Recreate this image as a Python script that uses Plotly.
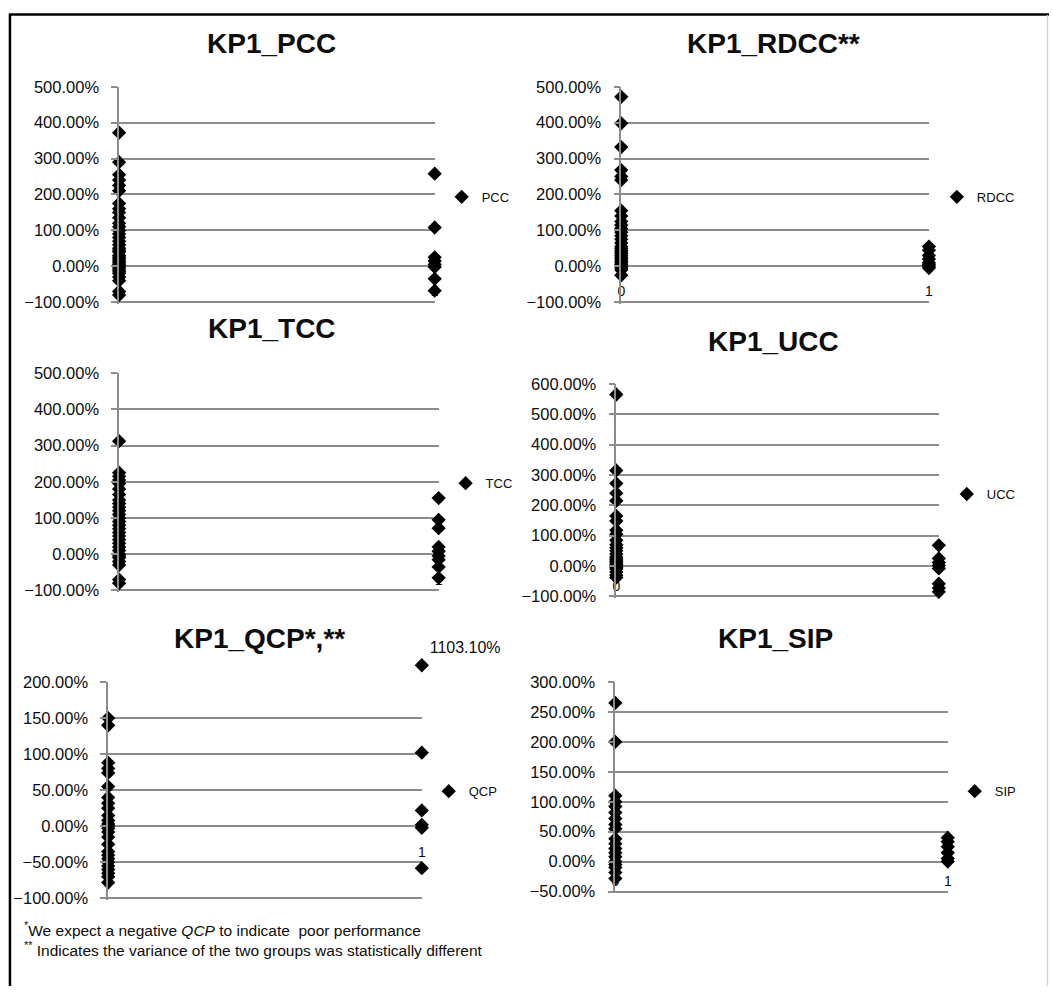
import plotly.graph_objects as go

W, H = 1053, 993

# ---- data (percent change, group 0 vs group 1) ----
pcc_group0 = [372, 290, 255, 240, 225, 210, 175, 160, 150, 135, 120, 110, 100, 90, 80,
              70, 60, 50, 45, 40, 30, 25, 20, 15, 10, 5, 0, -5, -10, -15, -20, -30, -40,
              -70, -80]
pcc_group1 = [258, 108, 25, 15, 5, -2, -35, -68]

rdcc_group0 = [472, 398, 332, 268, 250, 240, 155, 140, 125, 115, 105, 95, 85, 75, 65,
               55, 50, 45, 40, 35, 30, 25, 20, 15, 10, 5, 0, -5, -10, -25]
rdcc_group1 = [55, 45, 30, 20, 10, 5, 0, -5]

tcc_group0 = [312, 225, 215, 205, 195, 180, 165, 150, 140, 130, 120, 110, 100, 90, 80,
              70, 60, 50, 40, 30, 20, 10, 0, -5, -10, -20, -30, -70, -80]
tcc_group1 = [155, 95, 72, 20, 8, -5, -15, -35, -65]

ucc_group0 = [565, 315, 272, 240, 215, 165, 148, 118, 105, 85, 70, 60, 50, 40, 30, 25,
              20, 15, 10, 5, 0, -5, -10, -20, -30, -38]
ucc_group1 = [68, 25, 12, 2, -8, -58, -72, -85]

qcp_group0 = [150, 140, 88, 80, 74, 55, 40, 32, 25, 15, 8, 3, 0, -3, -8, -15, -25, -35,
              -40, -45, -50, -55, -60, -65, -70, -78]
qcp_group1 = [102, 22, 2, -2, -58]
qcp_group1_offscale = [1103.10]

sip_group0 = [265, 200, 110, 100, 92, 82, 72, 62, 55, 38, 30, 22, 15, 8, 0, -5, -10,
              -18, -28]
sip_group1 = [40, 33, 25, 15, 5, 0]

group_ticks = [0, 1]
group_ticktext = ["0", "1"]

# ---- panel layout (pixel boxes of each plotting area) ----
panels = [
    dict(series="PCC", title="KP1_PCC", g0=pcc_group0, g1=pcc_group1,
         yrange=[-100, 500], dtick=100, box=(116, 434, 79, 298),
         title_at=(270, 35), legend_at=(483, 191), xlabel_level=-100),
    dict(series="RDCC", title="KP1_RDCC**", g0=rdcc_group0, g1=rdcc_group1,
         yrange=[-100, 500], dtick=100, box=(622, 932, 79, 298),
         title_at=(775, 35), legend_at=(982, 191), xlabel_level=-100),
    dict(series="TCC", title="KP1_TCC", g0=tcc_group0, g1=tcc_group1,
         yrange=[-100, 500], dtick=100, box=(116, 438, 370, 591),
         title_at=(270, 325), legend_at=(487, 482), xlabel_level=-100),
    dict(series="UCC", title="KP1_UCC", g0=ucc_group0, g1=ucc_group1,
         yrange=[-100, 600], dtick=100, box=(617, 942, 381, 597),
         title_at=(775, 338), legend_at=(992, 493), xlabel_level=-100),
    dict(series="QCP", title="KP1_QCP*,**", g0=qcp_group0, g1=qcp_group1,
         yrange=[-100, 200], dtick=50, box=(105, 421, 684, 904),
         title_at=(257, 640), legend_at=(470, 795), xlabel_level=-50),
    dict(series="SIP", title="KP1_SIP", g0=sip_group0, g1=sip_group1,
         yrange=[-50, 300], dtick=50, box=(616, 951, 684, 897),
         title_at=(777, 640), legend_at=(1000, 795), xlabel_level=-50),
]

FONT = "Liberation Sans"
TEXT = "#0d0d0d"
GRID = "#8c8c8c"
MARKER_SIZE = 11


def fx(px):
    return px / W


def fy(py):
    return 1 - py / H


fig = go.Figure()
layout = dict(
    width=W, height=H,
    margin=dict(l=0, r=0, t=0, b=0),
    paper_bgcolor="white", plot_bgcolor="white",
    font=dict(family=FONT, color=TEXT),
    annotations=[], shapes=[],
)

for i, p in enumerate(panels, start=1):
    sx = "" if i == 1 else str(i)
    x0, x1, yt, yb = p["box"]
    lo, hi = p["yrange"]
    # extend the range a hair below the lowest gridline so that line is still drawn
    pad = 0.008 * (hi - lo)
    yb_ext = yb + (yb - yt) * pad / (hi - lo)
    ydom = [fy(yb_ext), fy(yt)]
    legend_key = "legend" if i == 1 else f"legend{i}"

    xs = [0] * len(p["g0"]) + [1] * len(p["g1"])
    ys = list(p["g0"]) + list(p["g1"])
    fig.add_trace(go.Scatter(
        x=xs, y=ys, mode="markers", name=p["series"],
        marker=dict(symbol="diamond", size=MARKER_SIZE, color="black"),
        xaxis=f"x{sx}", yaxis=f"y{sx}", cliponaxis=False,
        legend=legend_key,
    ))

    label_pos = ydom[0] + (p["xlabel_level"] - (lo - pad)) / (hi - lo + pad) * (ydom[1] - ydom[0])
    layout[f"xaxis{sx}"] = dict(
        domain=[fx(x0), fx(x1)], range=[0, 1], anchor="free", position=label_pos,
        showgrid=False, zeroline=False, showline=False,
        tickvals=group_ticks, ticktext=group_ticktext, ticks="",
        ticklabelposition="inside", ticklabeloverflow="allow",
        layer="below traces", tickfont=dict(size=14, family=FONT, color=TEXT),
        fixedrange=True,
    )
    layout[f"yaxis{sx}"] = dict(
        domain=ydom, range=[lo - pad, hi], tick0=lo, dtick=p["dtick"], anchor=f"x{sx}",
        showgrid=True, gridcolor=GRID, gridwidth=1.5, zeroline=False,
        showline=True, linecolor=GRID, linewidth=1.5,
        ticks="outside", ticklen=6, tickcolor=GRID, tickwidth=1.5,
        tickformat=".2f", ticksuffix="%", ticklabelstandoff=9,
        tickfont=dict(size=16.5, family=FONT, color=TEXT),
        fixedrange=True,
    )

    tx, ty = p["title_at"]
    layout["annotations"].append(dict(
        text=f"<b>{p['title']}</b>", x=fx(tx), y=fy(ty), xref="paper", yref="paper",
        xanchor="center", yanchor="middle", showarrow=False,
        font=dict(size=28, family=FONT, color=TEXT),
    ))

    lx, ly = p["legend_at"]
    layout[legend_key] = dict(
        x=fx(lx - 42), y=fy(ly), xanchor="left", yanchor="middle",
        bgcolor="rgba(0,0,0,0)", borderwidth=0,
        font=dict(size=13, family=FONT, color=TEXT),
    )

# off-scale QCP values: a thin hidden band above the QCP axis holds values > 200%
qcp = panels[4]
q_lo, q_hi = qcp["yrange"]
q_top_px = qcp["box"][2]
band_top = q_hi + 2 * (max(qcp_group1_offscale) - q_hi)
layout["yaxis7"] = dict(
    domain=[fy(q_top_px), fy(q_top_px - 34)], range=[q_hi, band_top], anchor="x5",
    visible=False, showgrid=False, zeroline=False, fixedrange=True,
)
fig.add_trace(go.Scatter(
    x=[1] * len(qcp_group1_offscale), y=qcp_group1_offscale, mode="markers+text",
    text=[f"{v:.2f}%" for v in qcp_group1_offscale], textposition="top right",
    textfont=dict(size=16, family=FONT, color=TEXT),
    marker=dict(symbol="diamond", size=MARKER_SIZE, color="black"),
    xaxis="x5", yaxis="y7", cliponaxis=False, showlegend=False,
))

# footnotes
layout["annotations"].append(dict(
    text="<sup>*</sup>We expect a negative <i>QCP</i> to indicate\u00a0 poor performance",
    x=fx(18), y=fy(935), xref="paper", yref="paper", xanchor="left", yanchor="middle",
    showarrow=False, font=dict(size=15.5, family=FONT, color=TEXT),
))
layout["annotations"].append(dict(
    text="<sup>**</sup> Indicates the variance of the two groups was statistically different",
    x=fx(18), y=fy(955), xref="paper", yref="paper", xanchor="left", yanchor="middle",
    showarrow=False, font=dict(size=15.5, family=FONT, color=TEXT),
))

# frame around the figure
layout["shapes"] += [
    dict(type="line", xref="paper", yref="paper", x0=fx(5), x1=1, y0=fy(5.5), y1=fy(5.5),
         line=dict(color="black", width=2.5)),
    dict(type="line", xref="paper", yref="paper", x0=fx(6), x1=fx(6), y0=fy(5), y1=0,
         line=dict(color="black", width=2.5)),
    dict(type="line", xref="paper", yref="paper", x0=fx(1051.5), x1=fx(1051.5), y0=fy(6), y1=0,
         line=dict(color="#d4d4d4", width=1.5)),
]

fig.update_layout(**layout)
fig.write_html("out.html")
